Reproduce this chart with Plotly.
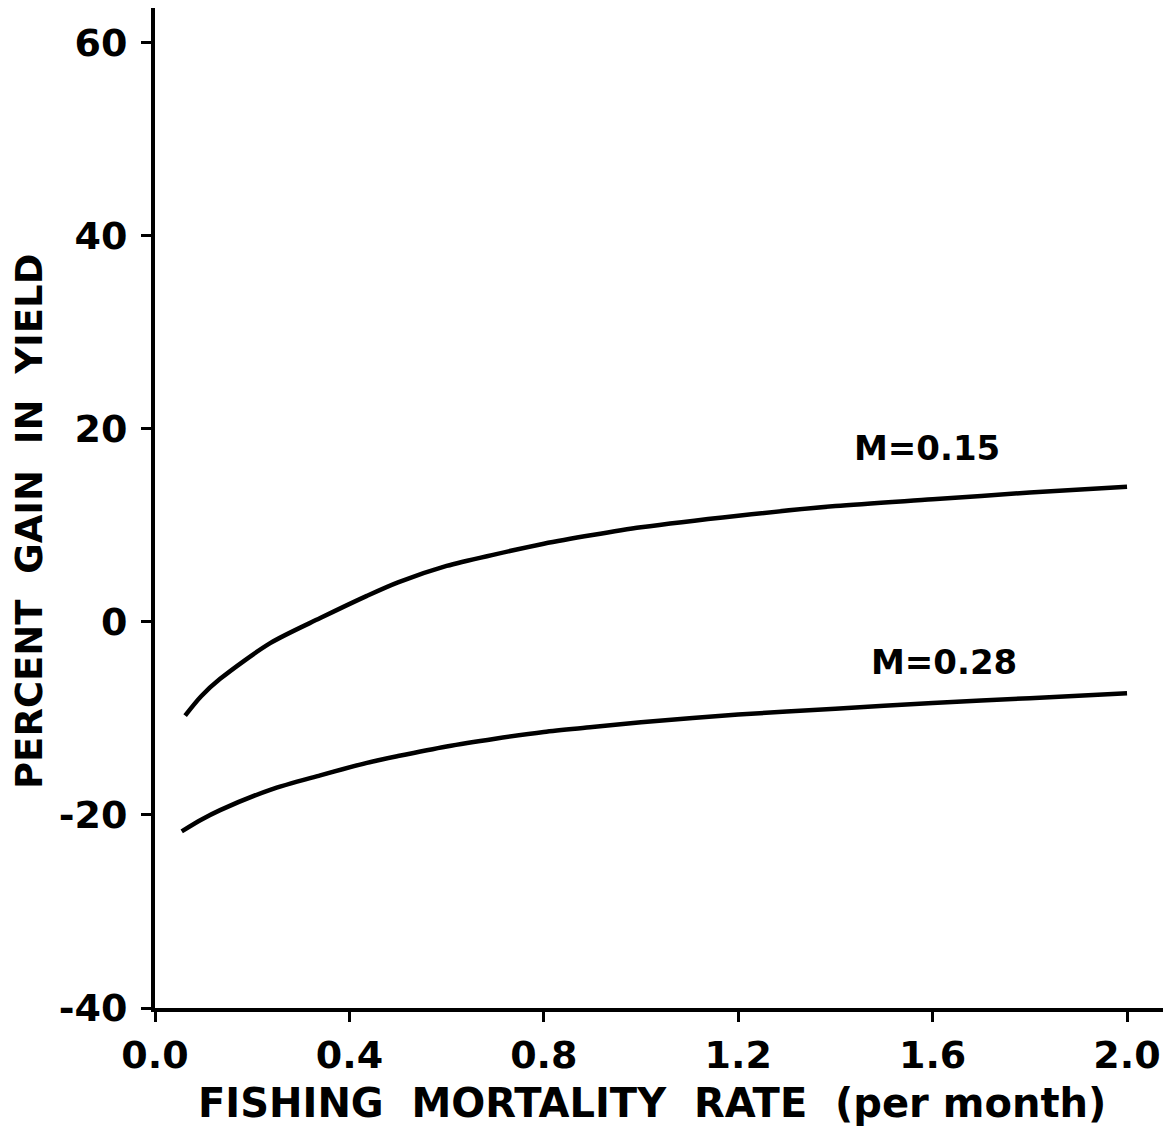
import plotly.graph_objects as go

# Fishing mortality rate F (per month) and percent gain in yield
f_m015 = [0.062, 0.095, 0.134, 0.237, 0.34, 0.436, 0.5, 0.6, 0.7, 0.8, 0.9, 1.0, 1.2, 1.4, 1.6, 1.8, 2.0]
gain_m015 = [-9.7, -7.7, -5.9, -2.2, 0.4, 2.7, 4.1, 5.8, 7.0, 8.1, 9.0, 9.8, 11.0, 12.0, 12.7, 13.4, 14.0]

f_m028 = [0.055, 0.095, 0.134, 0.237, 0.34, 0.436, 0.5, 0.6, 0.7, 0.8, 0.9, 1.0, 1.2, 1.4, 1.6, 1.8, 2.0]
gain_m028 = [-21.7, -20.5, -19.5, -17.4, -15.9, -14.6, -13.9, -12.9, -12.1, -11.4, -10.9, -10.4, -9.6, -9.0, -8.4, -7.9, -7.4]

x_ticks = [0.0, 0.4, 0.8, 1.2, 1.6, 2.0]
x_tick_text = ["0.0", "0.4", "0.8", "1.2", "1.6", "2.0"]
y_ticks = [-40, -20, 0, 20, 40, 60]
y_tick_text = ["-40", "-20", "0", "20", "40", "60"]

curve_labels = ["M=0.15", "M=0.28"]
label_pos = [(1.588, 18.0), (1.623, -4.2)]

FONT = "DejaVu Sans"

fig = go.Figure()
for xs, ys in [(f_m015, gain_m015), (f_m028, gain_m028)]:
    fig.add_trace(go.Scatter(
        x=xs, y=ys, mode="lines",
        line=dict(color="black", width=4.5, shape="spline", smoothing=0.8),
        showlegend=False, hoverinfo="skip",
    ))

for text, (lx, ly) in zip(curve_labels, label_pos):
    fig.add_annotation(
        x=lx, y=ly, xref="x", yref="y", text=text, showarrow=False,
        xanchor="center", yanchor="middle",
        font=dict(family=FONT, size=34, color="black", weight="bold"),
    )

# Axis titles
fig.add_annotation(
    x=0.493, y=-0.095, xref="paper", yref="paper",
    xanchor="center", yanchor="middle",
    text="FISHING  MORTALITY  RATE  (per month)", showarrow=False,
    font=dict(family=FONT, size=40, color="black", weight="bold"),
)
fig.add_annotation(
    x=-0.125, y=0.486, xref="paper", yref="paper",
    xanchor="center", yanchor="middle",
    text="PERCENT  GAIN  IN  YIELD", showarrow=False, textangle=-90,
    font=dict(family=FONT, size=37, color="black", weight="bold"),
)

axis_font = dict(family=FONT, size=38, color="black", weight="bold")
fig.update_xaxes(
    range=[0, 2.074], tickvals=x_ticks, ticktext=x_tick_text,
    showline=True, linecolor="black", linewidth=4, mirror=False,
    ticks="outside", ticklen=10, tickwidth=3, tickcolor="black",
    showgrid=False, zeroline=False, tickfont=axis_font,
)
fig.update_yaxes(
    range=[-40, 63.6], tickvals=y_ticks, ticktext=y_tick_text,
    showline=True, linecolor="black", linewidth=4, mirror=False,
    ticks="outside", ticklen=10, tickwidth=3, tickcolor="black",
    showgrid=False, zeroline=False, tickfont=axis_font,
    ticklabelstandoff=6,
)
fig.update_layout(
    width=1169, height=1140,
    margin=dict(l=155, r=6, t=8, b=132),
    paper_bgcolor="white", plot_bgcolor="white",
)

fig.write_html("out.html")
